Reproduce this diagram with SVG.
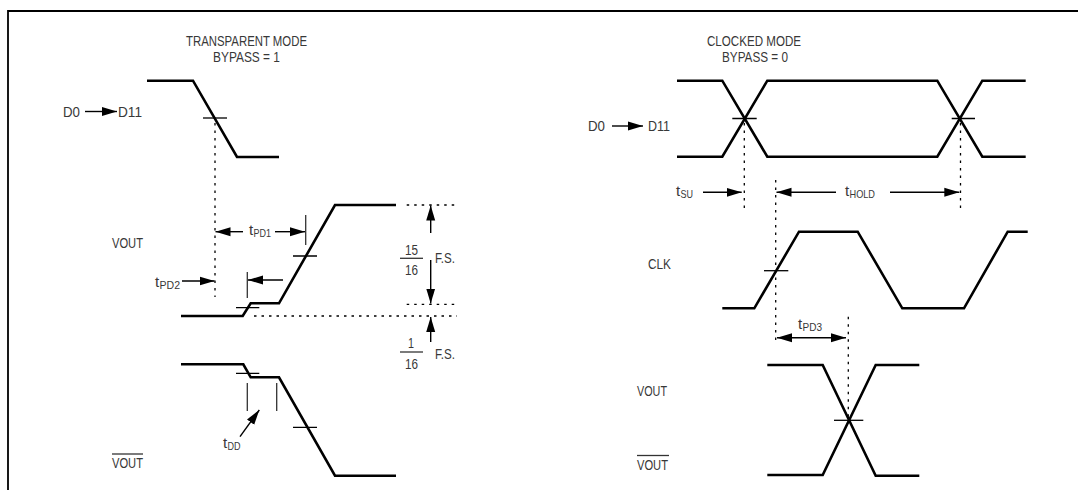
<svg xmlns="http://www.w3.org/2000/svg" width="1078" height="490" viewBox="0 0 1078 490">
<style>
.t{font-family:"Liberation Sans",Arial,sans-serif;font-size:15px;fill:#383838}
.s{font-family:"Liberation Sans",Arial,sans-serif;font-size:11px;fill:#383838}
.w{fill:none;stroke:#000;stroke-width:2.6;stroke-linejoin:miter}
.k{stroke:#000;stroke-width:1.3;fill:none}
.b{stroke:#333;stroke-width:1.3;fill:none}
.d{stroke:#000;stroke-width:1.3;stroke-dasharray:2.5 5;fill:none}
.a{stroke:#000;stroke-width:1.4;fill:none;marker-end:url(#ah)}
</style>
<defs>
<marker id="ah" markerUnits="userSpaceOnUse" markerWidth="16" markerHeight="10" refX="15" refY="5" orient="auto-start-reverse">
<path d="M0,0.5 L15,5 L0,9.5 Z" fill="#000"/>
</marker>
</defs>
<rect width="1078" height="490" fill="#fff"/>
<g id="frame">
<path d="M8,490 V11 H1078" fill="none" stroke="#000" stroke-width="1.8"/>
</g>
<g id="title-left">
<text class="t" x="186" y="46" textLength="121" lengthAdjust="spacingAndGlyphs">TRANSPARENT MODE</text>
<text class="t" x="213" y="62" textLength="67" lengthAdjust="spacingAndGlyphs">BYPASS = 1</text>
</g>
<g id="title-right">
<text class="t" x="707" y="46" textLength="94" lengthAdjust="spacingAndGlyphs">CLOCKED MODE</text>
<text class="t" x="722" y="62" textLength="66" lengthAdjust="spacingAndGlyphs">BYPASS = 0</text>
</g>
<g id="d0-left">
<text class="t" x="63" y="117" textLength="17" lengthAdjust="spacingAndGlyphs">D0</text>
<text class="t" x="118" y="117" textLength="24" lengthAdjust="spacingAndGlyphs">D11</text>
<path class="w" d="M147,80.7 H193 L237,157 H279"/>
<path class="k" d="M203,118 H227"/>
</g>
<g id="vout-left">
<text class="t" x="112" y="248" textLength="31" lengthAdjust="spacingAndGlyphs">VOUT</text>
<path class="w" d="M181,316 H242.7 L250.7,303.3 H279 L335,205 H396"/>
<path class="k" d="M236,307.7 H259.3 M293,256 H317"/>
</g>
<g id="voutbar-left">
<text class="t" x="112" y="468" textLength="31" lengthAdjust="spacingAndGlyphs">VOUT</text>
<path class="b" d="M112,454 H143"/>
<path class="w" d="M181,364.3 H243.3 L250.7,377.3 H279 L335,475.7 H396"/>
<path class="k" d="M236,373.3 H259.3 M293,427.3 H317"/>
</g>
<g id="fs-labels">
<text class="t" x="405" y="255" textLength="13" lengthAdjust="spacingAndGlyphs">15</text>
<path class="b" d="M400,258.3 H423"/>
<text class="t" x="405" y="275" textLength="13" lengthAdjust="spacingAndGlyphs">16</text>
<text class="t" x="435" y="263" textLength="20" lengthAdjust="spacingAndGlyphs">F.S.</text>
<text class="t" x="408" y="348" textLength="6" lengthAdjust="spacingAndGlyphs">1</text>
<path class="b" d="M400,352 H423"/>
<text class="t" x="405" y="369" textLength="13" lengthAdjust="spacingAndGlyphs">16</text>
<text class="t" x="435" y="359" textLength="20" lengthAdjust="spacingAndGlyphs">F.S.</text>
</g>
<g id="timing-labels-left">
<text class="t" x="249" y="235">t</text><text class="s" x="253.5" y="236.5" textLength="17.5" lengthAdjust="spacingAndGlyphs">PD1</text>
<text class="t" x="155" y="287">t</text><text class="s" x="159.5" y="288.5" textLength="20.5" lengthAdjust="spacingAndGlyphs">PD2</text>
<text class="t" x="223" y="448">t</text><text class="s" x="227.5" y="449.5" textLength="13" lengthAdjust="spacingAndGlyphs">DD</text>
</g>
<g id="d0-right">
<text class="t" x="588" y="131" textLength="17" lengthAdjust="spacingAndGlyphs">D0</text>
<text class="t" x="648" y="131" textLength="22" lengthAdjust="spacingAndGlyphs">D11</text>
<path class="w" d="M677,80.7 H722.3 L767.3,156.7 H937.3 L982.3,80.7 H1025.7"/>
<path class="w" d="M677,156.7 H722.3 L767.3,80.7 H937.3 L982.3,156.7 H1025.7"/>
<path class="k" d="M732.3,118.5 H756.7 M951.7,118.5 H975"/>
</g>
<g id="clk">
<text class="t" x="648" y="269" textLength="23" lengthAdjust="spacingAndGlyphs">CLK</text>
<path class="w" d="M722.3,308.3 H754.3 L799,231.7 H857.7 L902.3,308.3 H964 L1007.7,231.7 H1027.7"/>
<path class="k" d="M764,270.7 H788.3"/>
</g>
<g id="vout-right">
<text class="t" x="637" y="396" textLength="30" lengthAdjust="spacingAndGlyphs">VOUT</text>
<path class="w" d="M767.3,365 H822.7 L875.7,475.7 H919.3"/>
<path class="k" d="M834,420.3 H863.3"/>
</g>
<g id="voutbar-right">
<text class="t" x="637" y="470" textLength="31" lengthAdjust="spacingAndGlyphs">VOUT</text>
<path class="b" d="M637,455.5 H669"/>
<path class="w" d="M767.3,475 H822.7 L875.7,365 H919.3"/>
</g>
<g id="timing-labels-right">
<text class="t" x="676" y="196">t</text><text class="s" x="680.5" y="197.5" textLength="12.5" lengthAdjust="spacingAndGlyphs">SU</text>
<text class="t" x="845" y="196">t</text><text class="s" x="849.5" y="197.5" textLength="25.5" lengthAdjust="spacingAndGlyphs">HOLD</text>
<text class="t" x="798" y="329">t</text><text class="s" x="802.5" y="330.5" textLength="19.5" lengthAdjust="spacingAndGlyphs">PD3</text>
</g>
<g id="connectors">
<path class="a" d="M85,111.5 H117"/>
<path class="a" d="M612,126 H643"/>
<path class="d" d="M215,123 V297"/>
<path class="a" d="M243,231.7 H215.5"/>
<path class="a" d="M275,231.7 H305"/>
<path class="b" d="M305.7,215 V245"/>
<path class="a" d="M182,281 H214.5"/>
<path class="a" d="M283,280 H248"/>
<path class="b" d="M247.3,272 V298"/>
<path class="b" d="M247.3,383 V411 M276.7,383 V411"/>
<path class="a" d="M240,436.7 L259.3,410"/>
<path class="d" d="M406.7,205 H457 M406.7,304.3 H457 M254,316 H457"/>
<path class="a" d="M430.7,233 V205.5"/>
<path class="a" d="M430.7,260 V303.5"/>
<path class="a" d="M430.7,342 V317"/>
<path class="d" d="M744.3,123 V208 M960.5,123 V208"/>
<path class="d" d="M775.7,180 V344"/>
<path class="d" d="M848.3,316.7 V418"/>
<path class="a" d="M703,192.3 H741.7"/>
<path class="a" d="M836,192.3 H776.5"/>
<path class="a" d="M890,192.3 H959.3"/>
<path class="a" style="marker-start:url(#ah)" d="M777,337.7 H846"/>
</g>
</svg>
